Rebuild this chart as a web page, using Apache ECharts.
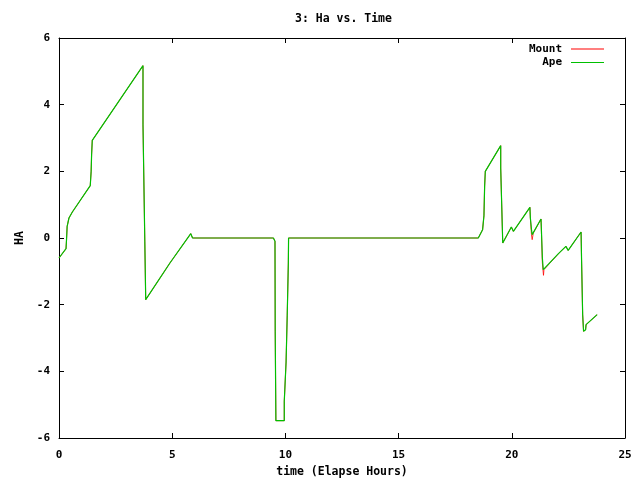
<!DOCTYPE html>
<html>
<head>
<meta charset="utf-8">
<script src="https://cdn.jsdelivr.net/npm/echarts@6/dist/echarts.min.js"></script>
<style>html,body{margin:0;padding:0;background:#fff}#c{width:640px;height:480px}</style>
</head>
<body>
<div id="c"></div>
<script>
var xTicks = [0, 5, 10, 15, 20, 25];
var yTicks = [-6, -4, -2, 0, 2, 4, 6];

var apeTimes = [0, 0.31, 0.33, 0.36, 0.44, 0.59, 1.38, 1.42, 1.44, 1.47, 3.71, 3.71, 3.79, 3.79, 3.83, 4.9, 5.82, 5.9,
  9.47, 9.54, 9.55, 9.56, 9.58, 9.95, 9.95, 10.03, 10.08, 10.13, 10.14,
  18.52, 18.71, 18.77, 18.8, 18.83, 19.51, 19.51, 19.58, 19.6, 19.98, 20.07, 20.8, 20.82, 20.87, 20.9, 20.95, 21.29,
  21.31, 21.35, 21.39, 22.06, 22.39, 22.49, 23.06, 23.08, 23.13, 23.17, 23.26, 23.28, 23.36, 23.77];
var apeValues = [-0.6, -0.32, -0.08, 0.35, 0.6, 0.78, 1.57, 2.0, 2.5, 2.93, 5.17, 3.4, 3.4, -0.1, -1.85, -0.75, 0.13, 0,
  0, -0.1, -2.8, -2.8, -5.48, -5.48, -4.9, -3.72, -2.33, -0.75, 0,
  0, 0.25, 0.67, 1.55, 2.0, 2.77, 2.1, 0.35, -0.15, 0.33, 0.2, 0.92, 0.6, 0.25, 0.1, 0.15, 0.57,
  0.2, -0.6, -0.95, -0.47, -0.25, -0.37, 0.18, -0.6, -2.3, -2.8, -2.75, -2.6, -2.65, -2.3];

var mountTimes = [0, 0.31, 0.33, 0.36, 0.44, 0.59, 1.38, 1.42, 1.44, 1.47, 3.71, 3.71, 3.79, 3.79, 3.83, 4.9, 5.82, 5.9,
  9.47, 9.54, 9.55, 9.56, 9.58, 9.95, 9.95, 10.03, 10.08, 10.13, 10.14,
  18.52, 18.71, 18.77, 18.8, 18.83, 19.51, 19.51, 19.58, 19.6, 19.98, 20.07, 20.8, 20.82, 20.87, 20.9, 20.95, 21.29,
  21.31, 21.35, 21.4, 21.42, 22.06, 22.39, 22.49, 23.06, 23.08, 23.13, 23.17, 23.26, 23.28, 23.36, 23.77];
var mountValues = [-0.6, -0.32, -0.08, 0.35, 0.6, 0.78, 1.57, 2.0, 2.5, 2.93, 5.17, 3.4, 3.4, -0.1, -1.85, -0.75, 0.13, 0,
  0, -0.1, -2.8, -2.8, -5.48, -5.48, -4.9, -3.72, -2.33, -0.75, 0,
  0, 0.25, 0.67, 1.55, 2.0, 2.77, 2.1, 0.35, -0.15, 0.33, 0.2, 0.92, 0.6, 0.1, -0.05, 0.15, 0.57,
  0.15, -0.75, -1.12, -0.95, -0.47, -0.25, -0.37, 0.18, -0.6, -2.3, -2.8, -2.75, -2.6, -2.65, -2.3];

function pairs(t, v) { return t.map(function (x, i) { return [x, v[i]]; }); }

var FONT = 'DejaVu Sans Mono';
var chart = echarts.init(document.getElementById('c'), null, { renderer: 'canvas' });
var tickStyle = { show: true, inside: true, length: 5, lineStyle: { color: '#000', width: 1 } };
var lineStyleAxis = { show: true, onZero: false, lineStyle: { color: '#000', width: 1 } };
var lbl = { color: '#000', fontFamily: FONT, fontWeight: 'bold', fontSize: 11 };

chart.setOption({
  animation: false,
  backgroundColor: '#fff',
  title: {
    text: '3: Ha vs. Time',
    left: 290, top: 8,
    textStyle: { color: '#000', fontFamily: FONT, fontWeight: 'bold', fontSize: 11.5 }
  },
  legend: {
    orient: 'vertical',
    right: 31, top: 38,
    align: 'right',
    itemWidth: 33, itemHeight: 1, itemGap: 1.5,
    icon: 'rect',
    textStyle: { color: '#000', fontFamily: FONT, fontWeight: 'bold', fontSize: 11, lineHeight: 12, padding: [0, 4, 0, 0] },
    data: ['Mount', 'Ape']
  },
  grid: { left: 59, right: 15, top: 38, bottom: 42, containLabel: false, outerBoundsMode: 'none' },
  xAxis: [{
    type: 'value', min: xTicks[0], max: xTicks[xTicks.length - 1], interval: 5,
    axisLine: lineStyleAxis, axisTick: tickStyle, splitLine: { show: false },
    axisLabel: Object.assign({ margin: 12 }, lbl),
    name: 'time (Elapse Hours)', nameLocation: 'middle', nameGap: 27,
    nameTextStyle: { color: '#000', fontFamily: FONT, fontWeight: 'bold', fontSize: 11.5 }
  }, {
    type: 'value', position: 'top', min: xTicks[0], max: xTicks[xTicks.length - 1], interval: 5,
    axisLine: lineStyleAxis, axisTick: tickStyle, splitLine: { show: false }, axisLabel: { show: false }
  }],
  yAxis: [{
    type: 'value', min: yTicks[0], max: yTicks[yTicks.length - 1], interval: 2,
    axisLine: lineStyleAxis, axisTick: tickStyle, splitLine: { show: false },
    axisLabel: Object.assign({ margin: 9 }, lbl),
    name: 'HA', nameLocation: 'middle', nameGap: 24, nameRotate: 90,
    nameTextStyle: { color: '#000', fontFamily: FONT, fontWeight: 'bold', fontSize: 11.5 }
  }, {
    type: 'value', position: 'right', min: yTicks[0], max: yTicks[yTicks.length - 1], interval: 2,
    axisLine: lineStyleAxis, axisTick: tickStyle, splitLine: { show: false }, axisLabel: { show: false }
  }],
  series: [{
    name: 'Mount', type: 'line', xAxisIndex: 0, yAxisIndex: 0,
    data: pairs(mountTimes, mountValues), showSymbol: false, symbol: 'none',
    itemStyle: { color: '#ff0000' }, lineStyle: { color: '#ff0000', width: 0.8 }
  }, {
    name: 'Ape', type: 'line', xAxisIndex: 0, yAxisIndex: 0,
    data: pairs(apeTimes, apeValues), showSymbol: false, symbol: 'none',
    itemStyle: { color: '#00c000' }, lineStyle: { color: '#00c000', width: 1.2 }
  }]
});
</script>
</body>
</html>
